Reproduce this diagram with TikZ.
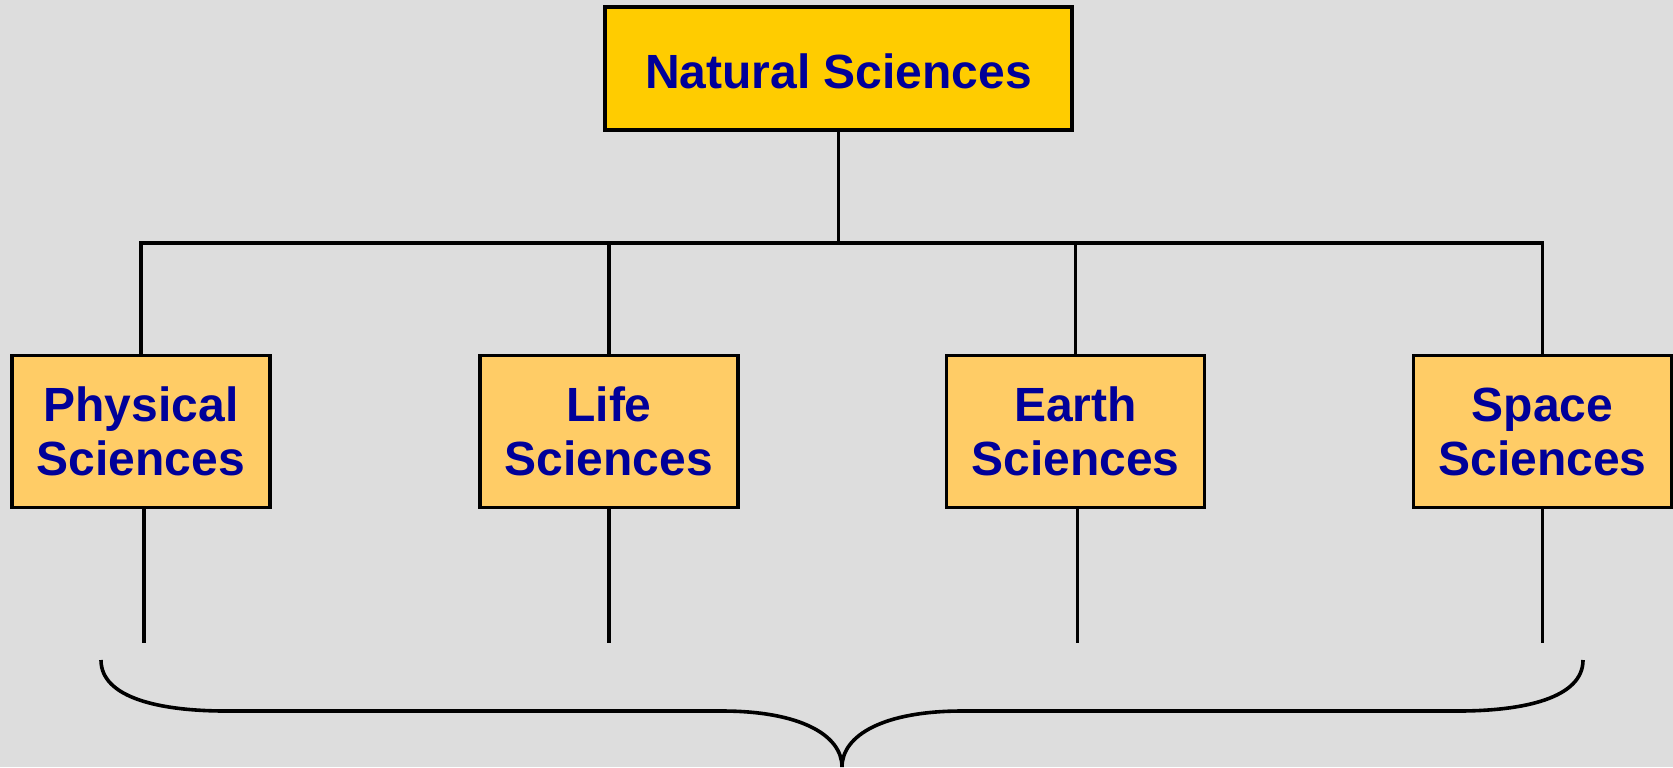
\documentclass[tikz,border=0pt]{standalone}
\usepackage{fontspec}
\setmainfont{Liberation Sans}
\definecolor{bgGray}{HTML}{DDDDDD}
\definecolor{rootFill}{HTML}{FFCC00}
\definecolor{leafFill}{HTML}{FFCC66}
\definecolor{labelBlue}{HTML}{000099}
\begin{document}
\begin{tikzpicture}[x=0.5pt,y=-0.5pt,
  box/.style={draw=black, line width=1.8pt, text=labelBlue,
    font=\bfseries\fontsize{24}{27}\selectfont, align=center, inner sep=0pt},
  rootbox/.style={box, fill=rootFill, minimum width=233.5pt, minimum height=61.5pt},
  leafbox/.style={box, fill=leafFill, minimum width=129pt, minimum height=76pt},
  link/.style={draw=black, line width=1.9pt},
  bracket/.style={draw=black, line width=1.8pt}]
  % canvas
  \fill[bgGray] (0,0) rectangle (1673,767);
  \useasboundingbox (0,0) rectangle (1673,767);

  % bus line and stem ends
  \coordinate (bus) at (0,243);
  \coordinate (stemend) at (0,643);

  % nodes
  \node[rootbox, text height=20pt, text depth=0pt] (root) at (838.5,68.5) {Natural Sciences};
  \node[leafbox] (phys)  at (141,431.5)   {Physical\\Sciences};
  \node[leafbox] (life)  at (609,431.5)   {Life\\Sciences};
  \node[leafbox] (earth) at (1075.5,431.5) {Earth\\Sciences};
  \node[leafbox] (space) at (1542.5,431.5) {Space\\Sciences};

  % tree connectors
  \draw[link] (root.south) -- (root.south |- bus);
  \draw[link] (phys.north) -- (phys.north |- bus) -- (space.north |- bus) -- (space.north);
  \draw[link] (life.north) -- (life.north |- bus);
  \draw[link] (earth.north) -- (earth.north |- bus);

  % stems below the boxes
  \draw[link] ([xshift=1.5pt]phys.south) -- ([xshift=1.5pt]phys.south |- stemend);
  \draw[link] (life.south) -- (life.south |- stemend);
  \draw[link] ([xshift=1pt]earth.south) -- ([xshift=1pt]earth.south |- stemend);
  \draw[link] (space.south) -- (space.south |- stemend);

  % curly brace under the stems
  \coordinate (bl) at (101,660);
  \coordinate (br) at (1583,660);
  \coordinate (bm) at (842,767);
  \draw[bracket] (bl) .. controls (101,698) and (160,711) .. (226,711)
    -- (722,711) .. controls (800,711) and (842,735) .. (bm)
    .. controls (842,735) and (884,711) .. (962,711)
    -- (1458,711) .. controls (1524,711) and (1583,698) .. (br);
\end{tikzpicture}
\end{document}
